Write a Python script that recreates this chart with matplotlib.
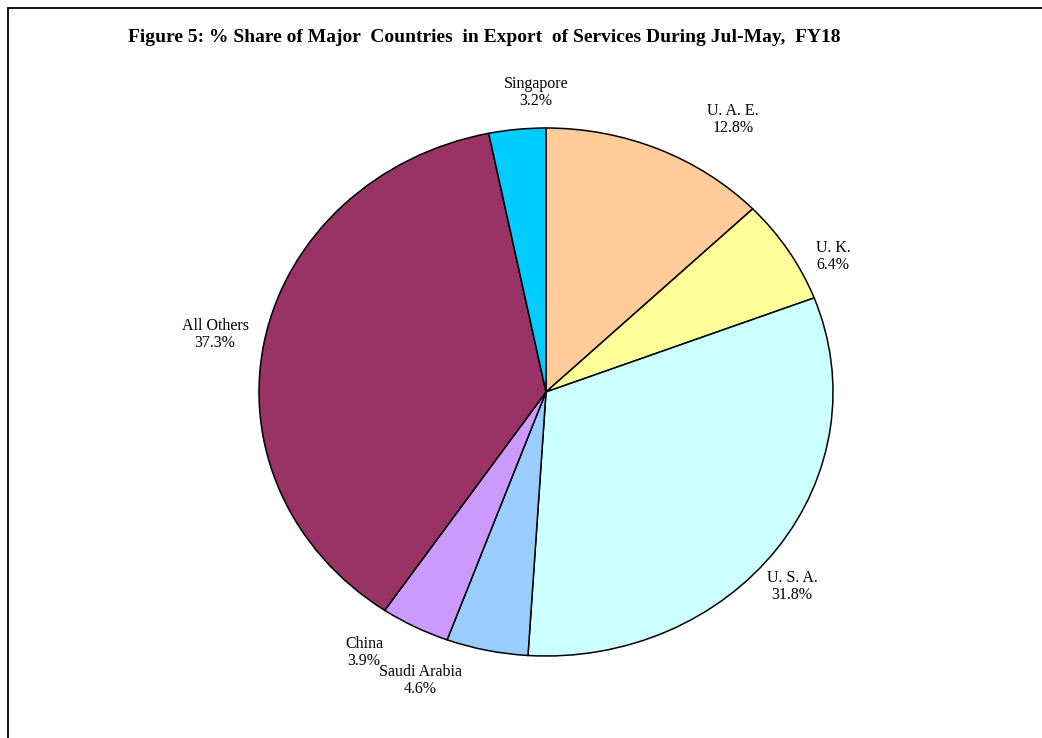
import matplotlib
matplotlib.use('Agg')
import matplotlib.pyplot as plt
from matplotlib.patches import Rectangle

# data (clockwise from 12 o'clock)
countries = ['U. A. E.', 'U. K.', 'U. S. A.', 'Saudi Arabia', 'China', 'All Others', 'Singapore']
shares = [12.8, 6.4, 31.8, 4.6, 3.9, 37.3, 3.2]
colors = ['#FFCC99', '#FFFF99', '#CCFFFF', '#99CCFF', '#CC99FF', '#993366', '#00CCFF']

# label spots, in pie-radius units (excel puts them by hand)
label_xy = [(0.652, 1.034), (1.0, 0.515), (0.857, -0.735), (-0.439, -1.091),
            (-0.634, -0.985), (-1.153, 0.216), (-0.035, 1.133)]

plt.rcParams['font.family'] = ['Liberation Serif', 'DejaVu Serif']

W, H = 1042, 738
cx, cy, rx, ry = 546, 392, 287, 264

fig = plt.figure(figsize=(W / 100, H / 100), dpi=100)
fig.patch.set_facecolor('white')

# outer frame (only left and top edges show)
fig.add_artist(Rectangle((8 / W, -0.1), 1.2, (H - 8) / H + 0.1, transform=fig.transFigure,
                         fill=False, edgecolor='black', linewidth=1.3))

ax = fig.add_axes([0, 0, 1, 1])
ax.pie(shares, colors=colors, startangle=90, counterclock=False,
       wedgeprops=dict(edgecolor='black', linewidth=1.1))
ax.set_aspect('auto')
ax.set_xlim(-cx / rx, (W - cx) / rx)
ax.set_ylim(-(H - cy) / ry, cy / ry)
ax.axis('off')

for name, val, (lx, ly) in zip(countries, shares, label_xy):
    ax.text(lx, ly, f'{name}\n{val:.1f}%', ha='center', va='center',
            fontsize=11.5, linespacing=1.08)

fig.text(484 / W, 1 - 38 / H,
         'Figure 5: % Share of Major  Countries  in Export  of Services During Jul-May,  FY18',
         ha='center', va='center', fontsize=14, fontweight='bold')

fig.savefig('out.png', dpi=100)
